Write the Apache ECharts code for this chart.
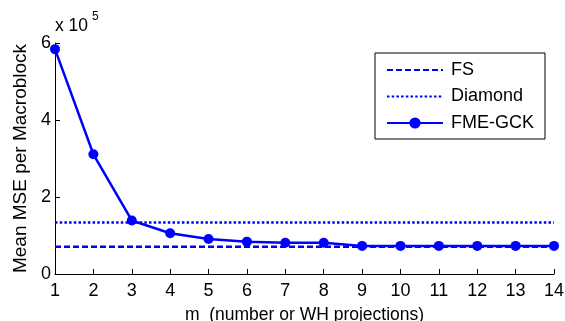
<!DOCTYPE html>
<html>
<head>
<meta charset="utf-8">
<script src="https://cdn.jsdelivr.net/npm/echarts@6/dist/echarts.min.js"></script>
<style>
  html, body { margin: 0; padding: 0; background: #fff; }
  #chart { width: 565px; height: 321px; }
</style>
</head>
<body>
<div id="chart"></div>
<script>
// values in units of 10^5
const mValues = [1, 2, 3, 4, 5, 6, 7, 8, 9, 10, 11, 12, 13, 14]
const fmeGck = [5.84, 3.11, 1.39, 1.06, 0.91, 0.84, 0.81, 0.81, 0.73, 0.73, 0.73, 0.73, 0.73, 0.73]
const fsLevel = 0.71
const diamondLevel = 1.34
const yTicks = [0, 2, 4, 6]

const blue = '#0000ff'
const font = 'Liberation Sans, Arial, sans-serif'

const chart = echarts.init(document.getElementById('chart'))

const flat = (v) => [[mValues[0], v], [mValues[mValues.length - 1], v]]
// hide the marker that ECharts puts on legend icons of plain lines
const noMarker = { color: 'rgba(0,0,0,0)', borderWidth: 0 }

const option = {
  animation: false,
  backgroundColor: '#fff',
  grid: { left: 55, right: 11, top: 43, bottom: 47, containLabel: false, outerBoundsMode: 'none' },
  legend: {
    orient: 'vertical',
    left: 375,
    top: 53,
    padding: [8, 11, 7, 11],
    itemWidth: 56,
    itemHeight: 14,
    itemGap: 8.5,
    backgroundColor: '#fff',
    borderColor: '#000',
    borderWidth: 1,
    textStyle: { fontFamily: font, fontSize: 18, color: '#000', padding: [0, 0, 0, 3] },
    data: [
      { name: 'FS', itemStyle: noMarker },
      { name: 'Diamond', itemStyle: noMarker },
      { name: 'FME-GCK' },
    ],
  },
  xAxis: {
    type: 'value',
    min: 1,
    max: 14,
    interval: 1,
    name: 'm  (number or WH projections)',
    nameLocation: 'middle',
    nameGap: 32,
    nameTextStyle: { fontFamily: font, fontSize: 17.5, color: '#000' },
    axisLine: { lineStyle: { color: '#000', width: 1 } },
    axisTick: { inside: true, length: 5, lineStyle: { color: '#000' } },
    axisLabel: { fontFamily: font, fontSize: 18, color: '#000', margin: 8 },
    splitLine: { show: false },
  },
  yAxis: {
    type: 'value',
    min: yTicks[0],
    max: yTicks[yTicks.length - 1],
    interval: 2,
    name: 'Mean MSE per Macroblock',
    nameLocation: 'middle',
    nameGap: 17,
    nameTextStyle: { fontFamily: font, fontSize: 19, color: '#000' },
    axisLine: { show: true, lineStyle: { color: '#000', width: 1 } },
    axisTick: { show: true, inside: true, length: 5, lineStyle: { color: '#000' } },
    axisLabel: { fontFamily: font, fontSize: 18, color: '#000', margin: 4 },
    splitLine: { show: false },
  },
  graphic: [
    { type: 'text', left: 55, top: 17, style: { text: 'x 10', font: '17.5px ' + font, fill: '#000' } },
    { type: 'text', left: 92, top: 11, style: { text: '5', font: '12px ' + font, fill: '#000' } },
  ],
  series: [
    {
      name: 'FS',
      type: 'line',
      data: flat(fsLevel),
      symbol: 'none',
      lineStyle: { color: blue, width: 2.5, type: [6, 3] },
      itemStyle: { color: blue },
    },
    {
      name: 'Diamond',
      type: 'line',
      data: flat(diamondLevel),
      symbol: 'none',
      lineStyle: { color: blue, width: 2.5, type: [2.5, 2.2] },
      itemStyle: { color: blue },
    },
    {
      name: 'FME-GCK',
      type: 'line',
      data: mValues.map((m, i) => [m, fmeGck[i]]),
      symbol: 'circle',
      symbolSize: 10,
      lineStyle: { color: blue, width: 2.5 },
      itemStyle: { color: blue },
    },
  ],
}

chart.setOption(option)
</script>
</body>
</html>
